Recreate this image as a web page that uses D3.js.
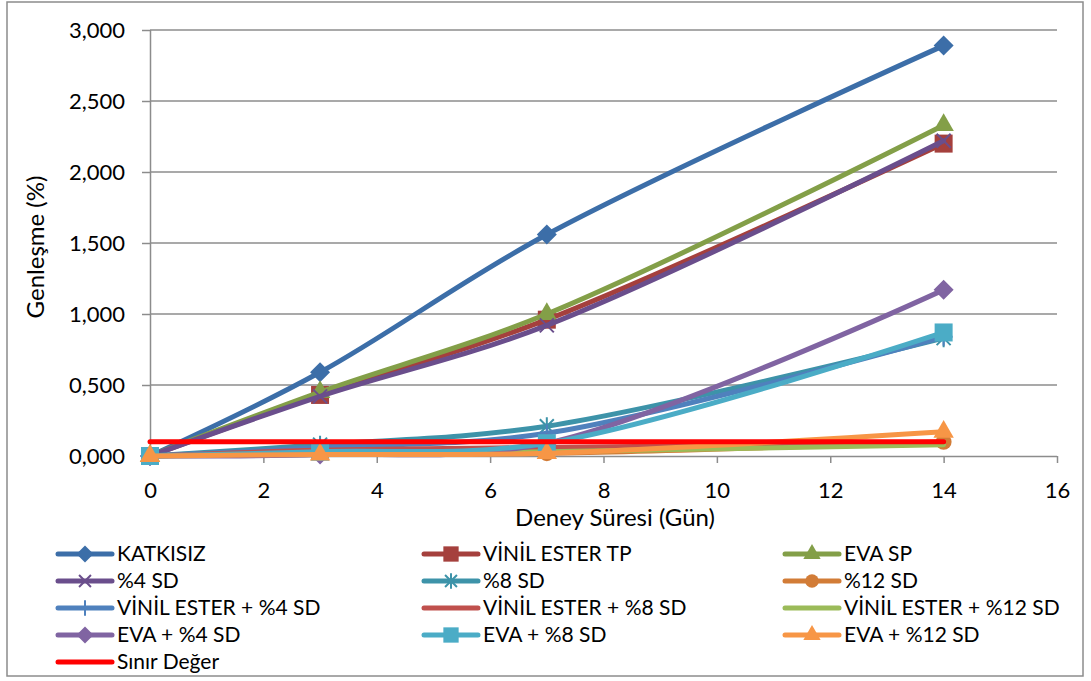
<!DOCTYPE html>
<html>
<head>
<meta charset="utf-8">
<script src="https://cdn.jsdelivr.net/npm/d3@7"></script>
<style>
  body { margin: 0; background: #fff; }
  text { font-family: Lato, "Open Sans", sans-serif; fill: #000; }
</style>
</head>
<body>
<div class="canvas"></div>
<script>
// data
const days = [0, 3, 7, 14];
const seriesNames = [
  'KATKISIZ', 'VİNİL ESTER TP', 'EVA SP',
  '%4 SD', '%8 SD', '%12 SD',
  'VİNİL ESTER + %4 SD', 'VİNİL ESTER + %8 SD', 'VİNİL ESTER + %12 SD',
  'EVA + %4 SD', 'EVA + %8 SD', 'EVA + %12 SD',
  'Sınır Değer'
];
const katkisiz = [0, 0.59, 1.56, 2.89];
const vinilTP = [0, 0.43, 0.96, 2.20];
const evaSP = [0, 0.45, 1.00, 2.33];
const sd4 = [0, 0.42, 0.92, 2.22];
const sd8 = [0, 0.08, 0.21, 0.83];
const sd12 = [0, 0.02, 0.02, 0.10];
const vinilSd4 = [0, 0.06, 0.16, 0.84];
const vinilSd8 = [0, 0.04, 0.06, 0.09];
const vinilSd12 = [0, 0.01, 0.03, 0.08];
const evaSd4 = [0, 0.01, 0.09, 1.17];
const evaSd8 = [0, 0.03, 0.09, 0.87];
const evaSd12 = [0, 0.01, 0.02, 0.17];
const sinir = [0.1, 0.1, 0.1, 0.1];
const yTicks = [0, 0.5, 1, 1.5, 2, 2.5, 3];
const xTicks = [0, 2, 4, 6, 8, 10, 12, 14, 16];

const allValues = [katkisiz, vinilTP, evaSP, sd4, sd8, sd12, vinilSd4, vinilSd8, vinilSd12, evaSd4, evaSd8, evaSd12, sinir];
const colors = ['#3C6EA8', '#A5403D', '#839F48', '#6A4E8C', '#3D93A9', '#D27C37',
  '#4F81BD', '#C0504D', '#9BBB59', '#8064A2', '#4BACC6', '#F79646', '#FF0000'];
const markers = ['diamond', 'square', 'triangle', 'x', 'star', 'circle',
  'plus', null, null, 'diamond', 'square', 'triangle', null];

const series = seriesNames.map((name, i) => ({
  name, color: colors[i], marker: markers[i],
  points: days.map((d, j) => ({ day: d, value: allValues[i][j] }))
}));

const svg = d3.select('.canvas')
  .append('svg')
  .attr('width', 1091)
  .attr('height', 681);

// outer frame
svg.append('rect')
  .attr('x', 7).attr('y', 2)
  .attr('width', 1076).attr('height', 674)
  .attr('fill', 'none')
  .attr('stroke', '#8c8c8c')
  .attr('stroke-width', 1.5);

const x = d3.scaleLinear().domain([0, 16]).range([150, 1057]);
const y = d3.scaleLinear().domain([0, 3]).range([456, 30]);

// gridlines
svg.append('g')
  .selectAll('line')
  .data(yTicks.slice(1))
  .enter()
  .append('line')
  .attr('x1', 150).attr('x2', 1057)
  .attr('y1', d => y(d)).attr('y2', d => y(d))
  .attr('stroke', '#8c8c8c')
  .attr('stroke-width', 1.5);

// axes
const yAxis = d3.axisLeft(y)
  .tickValues(yTicks)
  .tickSize(8)
  .tickPadding(17)
  .tickFormat(d => d.toFixed(3).replace('.', ','));
const xAxis = d3.axisBottom(x)
  .tickValues(xTicks)
  .tickSize(7)
  .tickPadding(19)
  .tickFormat(d => d);

const yAxisGroup = svg.append('g')
  .attr('transform', 'translate(150,0)')
  .call(yAxis);
const xAxisGroup = svg.append('g')
  .attr('transform', `translate(0,${y(0)})`)
  .call(xAxis);

[xAxisGroup, yAxisGroup].forEach(g => {
  g.select('.domain').attr('stroke', '#8c8c8c').attr('stroke-width', 1.5);
  g.selectAll('.tick line').attr('stroke', '#8c8c8c').attr('stroke-width', 1.5);
  g.selectAll('text').attr('font-size', 22).attr('font-family', 'Lato, "Open Sans", sans-serif');
});
xAxisGroup.select('.domain').attr('d', 'M150,0.5H1057');
yAxisGroup.select('.domain').attr('d', `M0.5,${y(3)}V${y(0) + 7}`);

// axis titles
svg.append('text')
  .attr('x', 615).attr('y', 526)
  .attr('text-anchor', 'middle')
  .attr('font-size', 24)
  .text('Deney Süresi (Gün)');
svg.append('text')
  .attr('transform', 'translate(44,247) rotate(-90)')
  .attr('text-anchor', 'middle')
  .attr('font-size', 24)
  .text('Genleşme (%)');

// marker shapes, k scales for legend
function markerPath(type, k) {
  const r = 10 * k;
  switch (type) {
    case 'diamond': return `M0,${-r}L${r},0L0,${r}L${-r},0Z`;
    case 'square': return `M${-9 * k},${-9 * k}h${18 * k}v${18 * k}h${-18 * k}Z`;
    case 'triangle': return d3.symbol(d3.symbolTriangle, 180 * k * k)();
    case 'circle': return d3.symbol(d3.symbolCircle, 200 * k * k)();
    case 'x': return `M${-7 * k},${-7 * k}L${7 * k},${7 * k}M${-7 * k},${7 * k}L${7 * k},${-7 * k}`;
    case 'star': return `M${-7 * k},${-7 * k}L${7 * k},${7 * k}M${-7 * k},${7 * k}L${7 * k},${-7 * k}M0,${-9 * k}V${9 * k}`;
    case 'plus': return `M0,${-9 * k}V${9 * k}M${-9 * k},0H${9 * k}`;
  }
  return null;
}
function drawMarker(g, type, color, px, py, k) {
  if (!type) return;
  const p = g.append('path')
    .attr('d', markerPath(type, k))
    .attr('transform', `translate(${px},${py})`);
  if (type === 'x' || type === 'star' || type === 'plus') {
    p.attr('fill', 'none').attr('stroke', color).attr('stroke-width', 2);
  } else {
    p.attr('fill', color);
  }
}

// lines
const line = d3.line()
  .x(d => x(d.day))
  .y(d => y(d.value))
  .curve(d3.curveCatmullRom.alpha(0.5));

const plot = svg.append('g');
series.forEach(s => {
  const g = plot.append('g');
  g.append('path')
    .datum(s.points)
    .attr('d', line)
    .attr('fill', 'none')
    .attr('stroke', s.color)
    .attr('stroke-width', 5)
    .attr('stroke-linecap', 'round');
  s.points.forEach(p => drawMarker(g, s.marker, s.color, x(p.day), y(p.value), 1));
});

// legend
const legendCols = [58, 424, 785];
const legendRows = [554, 581, 608, 635, 662];
const legend = svg.append('g');
series.forEach((s, i) => {
  const lx = legendCols[i % 3];
  const ly = legendRows[Math.floor(i / 3)];
  const g = legend.append('g');
  g.append('line')
    .attr('x1', lx).attr('x2', lx + 54)
    .attr('y1', ly).attr('y2', ly)
    .attr('stroke', s.color)
    .attr('stroke-width', 5)
    .attr('stroke-linecap', 'round');
  drawMarker(g, s.marker, s.color, lx + 27, ly, 0.85);
  g.append('text')
    .attr('x', lx + 59).attr('y', ly)
    .attr('dy', '0.35em')
    .attr('font-size', 21)
    .text(s.name);
});
</script>
</body>
</html>
